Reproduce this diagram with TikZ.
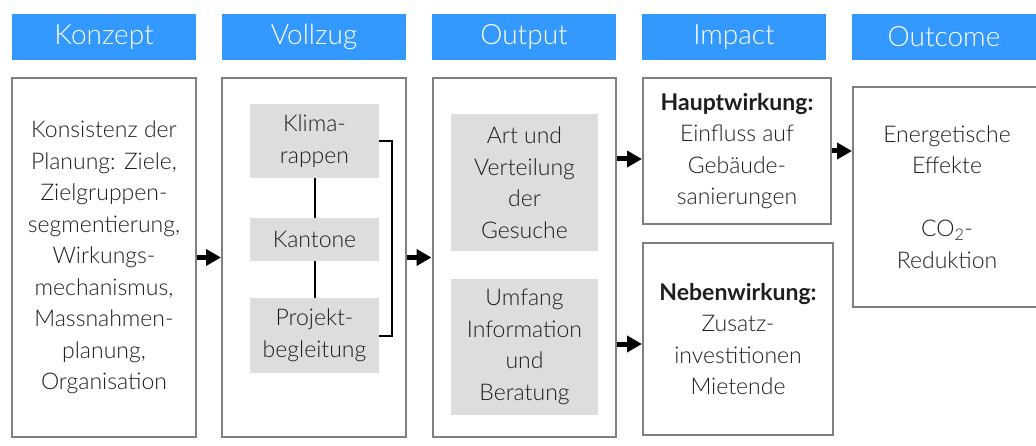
\documentclass[tikz,border=0pt]{standalone}
\usepackage{fontspec}
\setmainfont{Lato Light}[BoldFont={Lato Bold}]
\usetikzlibrary{arrows.meta}
\definecolor{hdr}{RGB}{51,153,255}
\definecolor{framec}{RGB}{128,128,128}
\definecolor{innerc}{RGB}{221,221,221}
\definecolor{txt}{RGB}{30,30,30}
\begin{document}
\begin{tikzpicture}[x=1pt,y=-1pt,
  hdrbox/.style={fill=hdr, text=white, font=\fontsize{28}{32}\selectfont,
    inner sep=0pt, minimum width=184pt, minimum height=46pt},
  mainbox/.style={draw=framec, line width=2pt, fill=white, text=txt,
    align=center, inner sep=0pt, font=\fontsize{23}{31.5}\selectfont},
  innerbox/.style={fill=innerc, text=txt, align=center, inner sep=0pt,
    font=\fontsize{23}{31.5}\selectfont},
  arr/.style={line width=5pt, -{Triangle[length=15pt,width=16pt]}},
  link/.style={line width=2pt, black}]
\useasboundingbox (0,0) rectangle (1036,446);

% headers
\node[hdrbox] (h1) at (104,37) {Konzept};
\node[hdrbox] (h2) at (314,37) {Vollzug};
\node[hdrbox] (h3) at (524,37) {Output};
\node[hdrbox] (h4) at (734,37) {Impact};
\node[hdrbox] (h5) at (944,37) {Outcome};

% main boxes
\node[mainbox, minimum width=184pt, minimum height=359pt] (konzept) at (104,257.5)
  {Konsistenz der\\Planung: Ziele,\\Zielgruppen-\\segmentierung,\\Wirkungs-\\mechanismus,\\Massnahmen-\\planung,\\Organisation};
\node[mainbox, minimum width=184pt, minimum height=359pt] (vollzug) at (314,257.5) {};
\node[mainbox, minimum width=183pt, minimum height=359pt] (output) at (524,257.5) {};
\node[mainbox, minimum width=188pt, minimum height=146pt] (haupt) at (737,151)
  {\textbf{Hauptwirkung:}\\Einfluss auf\\Gebäude-\\sanierungen};
\node[mainbox, minimum width=190pt, minimum height=192pt] (neben) at (738,339)
  {\textbf{Nebenwirkung:}\\Zusatz-\\investitionen\\Mietende};
\node[mainbox, minimum width=188pt, minimum height=220pt] (outcome) at (947,197)
  {Energetische\\Effekte\\[31.5pt]CO\textsubscript{2}-\\Reduktion};

% inner boxes Vollzug
\node[innerbox, minimum width=129pt, minimum height=74pt] (klima) at (314.5,141) {Klima-\\rappen};
\node[innerbox, minimum width=129pt, minimum height=43pt] (kantone) at (314.5,239.5) {Kantone};
\node[innerbox, minimum width=129pt, minimum height=75pt] (projekt) at (314.5,335.5) {Projekt-\\begleitung};
\draw[link] (klima.south) -- (kantone.north);
\draw[link] (kantone.south) -- (projekt.north);
\draw[link] (klima.east) -- ++(13,0) |- (projekt.east);

% inner boxes Output
\node[innerbox, minimum width=147pt, minimum height=137pt] (art) at (524.5,182.5) {Art und\\Verteilung\\der\\Gesuche};
\node[innerbox, minimum width=147pt, minimum height=136pt] (umfang) at (524.5,347) {Umfang\\Information\\und\\Beratung};

% arrows
\coordinate (ya) at (0,159);
\coordinate (yb) at (0,344);
\coordinate (yc) at (0,151);
\draw[arr] (konzept.east) -- (vollzug.west);
\draw[arr] (vollzug.east) -- (output.west);
\draw[arr] (output.east |- ya) -- (haupt.west |- ya);
\draw[arr] (output.east |- yb) -- (neben.west |- yb);
\draw[arr] (haupt.east |- yc) -- (outcome.west |- yc);
\end{tikzpicture}
\end{document}
